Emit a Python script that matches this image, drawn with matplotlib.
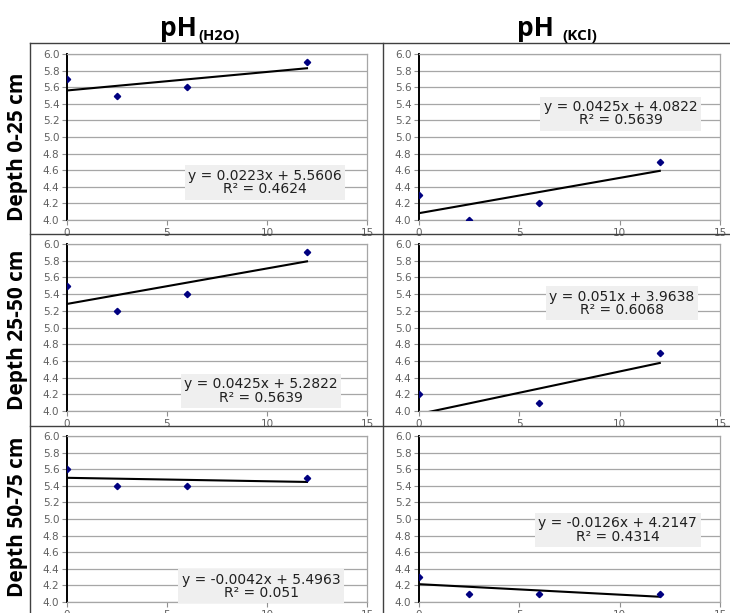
import numpy as np
import matplotlib.pyplot as plt
from matplotlib.lines import Line2D

# sampling times (x axis) and measured pH values per depth
x_vals = [0, 2.5, 6, 12]
h2o_0_25 = [5.7, 5.5, 5.6, 5.9]
kcl_0_25 = [4.3, 4.0, 4.2, 4.7]
h2o_25_50 = [5.5, 5.2, 5.4, 5.9]
kcl_25_50 = [4.2, 3.9, 4.1, 4.7]
h2o_50_75 = [5.6, 5.4, 5.4, 5.5]
kcl_50_75 = [4.3, 4.1, 4.1, 4.1]

col_titles = [("pH", "(H2O)"), ("pH ", "(KCl)")]
row_labels = ["Depth 0-25 cm", "Depth 25-50 cm", "Depth 50-75 cm"]

W, H = 730, 613
fig = plt.figure(figsize=(W / 100, H / 100), dpi=100)


def fx(px):
    return px / W


def fy(py):
    return 1 - py / H


def fmt(v):
    s = "%.4f" % v
    return s.rstrip("0").rstrip(".")


series = [[h2o_0_25, kcl_0_25], [h2o_25_50, kcl_25_50], [h2o_50_75, kcl_50_75]]
# label centres in data coords
label_pos = [[(9.9, 4.45), (10.05, 5.28)],
             [(9.7, 4.24), (10.1, 5.29)],
             [(9.7, 4.19), (9.9, 4.87)]]

rows_px = [(54, 220), (244, 411), (436, 602)]
cols_px = [(67, 367), (419, 720)]

for r in range(3):
    for c in range(2):
        top, bot = rows_px[r]
        left, right = cols_px[c]
        ax = fig.add_axes([fx(left), fy(bot), fx(right - left), (bot - top) / H])
        y = np.array(series[r][c])
        xs = np.array(x_vals)

        ax.set_xlim(0, 15)
        ax.set_ylim(4.0, 6.0)
        ax.set_yticks(np.arange(4.0, 6.01, 0.2))
        ax.set_xticks([0, 5, 10, 15])
        ax.set_yticklabels(["%.1f" % t for t in np.arange(4.0, 6.01, 0.2)])
        ax.grid(axis="y", color="#a6a6a6", lw=0.9)
        ax.set_axisbelow(True)
        for side in ["top", "right", "bottom"]:
            ax.spines[side].set_color("#a6a6a6")
            ax.spines[side].set_linewidth(0.9)
        ax.spines["left"].set_color("black")
        ax.spines["left"].set_linewidth(1.4)
        ax.tick_params(direction="out", length=3.5, width=0.8, color="#909090",
                       labelcolor="#606060", labelsize=7.5, pad=2)
        for lab in ax.get_xticklabels() + ax.get_yticklabels():
            lab.set_family("DejaVu Sans")

        a, b = np.polyfit(xs, y, 1)
        r2 = np.corrcoef(xs, y)[0, 1] ** 2
        xt = np.array([xs.min(), xs.max()])
        ax.plot(xt, a * xt + b, color="black", lw=1.5, zorder=3)
        ax.plot(xs, y, "D", color="#000080", ms=3.2, zorder=4)

        sign = "+" if b >= 0 else "-"
        txt = "y = %sx %s %s\nR² = %s" % (fmt(a), sign, fmt(abs(b)), fmt(r2))
        lx, ly = label_pos[r][c]
        ax.text(lx, ly, txt, ha="center", va="center", fontsize=10,
                family="DejaVu Sans", color="#202020", linespacing=0.95,
                bbox=dict(boxstyle="square,pad=0.25", fc="#efefef", ec="none"),
                zorder=5)

# column titles
title_x = [197, 561]
for c, (main, sub) in enumerate(col_titles):
    fig.text(fx(title_x[c]), fy(36), main, ha="right", va="baseline",
             fontsize=19, fontweight="bold", family="Open Sans")
    fig.text(fx(title_x[c] + 1), fy(40), sub, ha="left", va="baseline",
             fontsize=10.5 if c == 0 else 11, fontweight="bold", family="Open Sans")

# row labels
for r, lab in enumerate(row_labels):
    fig.text(fx(18), fy([147, 330, 517][r]), lab, rotation=90, ha="center",
             va="center", fontsize=15, fontweight="bold", family="Open Sans")

# table lines
line_col = "#404040"
for yy in [43, 234, 426]:
    fig.add_artist(Line2D([fx(30), fx(730)], [fy(yy), fy(yy)], color=line_col, lw=1.0))
for xx in [30, 383]:
    fig.add_artist(Line2D([fx(xx), fx(xx)], [fy(43), fy(613)], color=line_col, lw=1.0))

plt.savefig("out.png", dpi=100)
